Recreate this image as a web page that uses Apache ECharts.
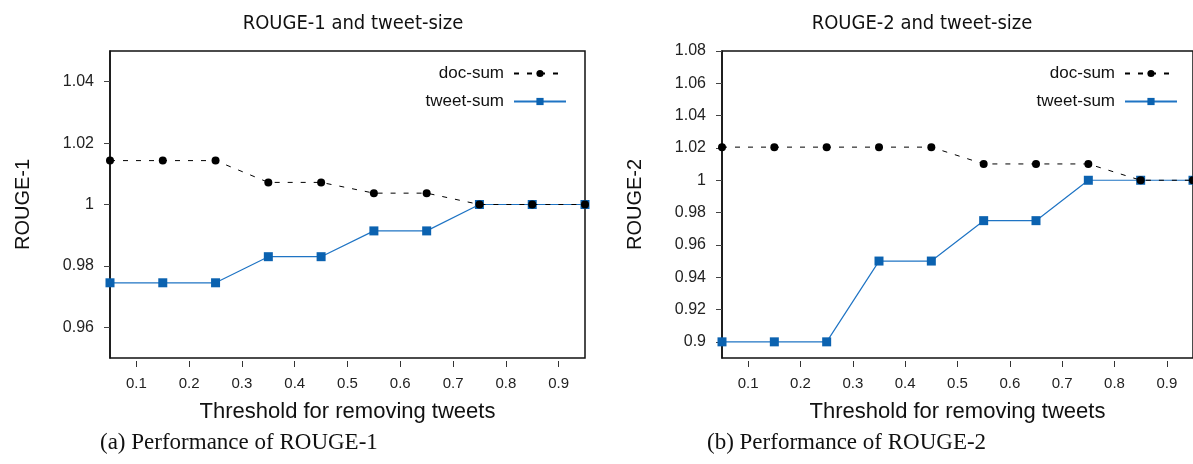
<!DOCTYPE html>
<html><head><meta charset="utf-8">
<script src="https://cdn.jsdelivr.net/npm/echarts@6/dist/echarts.min.js"></script>
<style>html,body{margin:0;padding:0;background:#fff}#c{width:1193px;height:464px}</style>
</head><body><div id="c"></div>
<script>
// ---- data ----
const thresholds = [0.05, 0.15, 0.25, 0.35, 0.45, 0.55, 0.65, 0.75, 0.85, 0.95];
const xTicks = [0.1, 0.2, 0.3, 0.4, 0.5, 0.6, 0.7, 0.8, 0.9];
const r1DocSum   = [1.0143, 1.0143, 1.0143, 1.0072, 1.0072, 1.0037, 1.0037, 1.0, 1.0, 1.0];
const r1TweetSum = [0.9745, 0.9745, 0.9745, 0.983, 0.983, 0.9914, 0.9914, 1.0, 1.0, 1.0];
const r2DocSum   = [1.0205, 1.0205, 1.0205, 1.0205, 1.0205, 1.0101, 1.0101, 1.0101, 1.0, 1.0];
const r2TweetSum = [0.9, 0.9, 0.9, 0.95, 0.95, 0.975, 0.975, 1.0, 1.0, 1.0];
const r1Ticks = [0.96, 0.98, 1.0, 1.02, 1.04];
const r2Ticks = [0.9, 0.92, 0.94, 0.96, 0.98, 1.0, 1.02, 1.04, 1.06, 1.08];
const seriesNames = ['doc-sum', 'tweet-sum'];
const chartTitles = ['ROUGE-1 and tweet-size', 'ROUGE-2 and tweet-size'];
const yNames = ['ROUGE-1', 'ROUGE-2'];
const xName = 'Threshold for removing tweets';
const captions = ['(a) Performance of ROUGE-1', '(b) Performance of ROUGE-2'];

// ---- styles ----
const SANS = '"Liberation Sans", Arial, sans-serif';
const NARROW = '"Liberation Sans Narrow", "DejaVu Sans Condensed", "Liberation Sans", sans-serif';
const BLUE = '#0b62b0';
const fmt = v => String(+(+v).toFixed(2));
const pairs = (ys) => thresholds.map((t, i) => [t, ys[i]]);

const grids = [
  { left: 110, width: 475, top: 51, height: 307 },
  { left: 722, width: 475, top: 51, height: 307 }
];

function xAxis(i) {
  return {
    type: 'value', gridIndex: i, min: 0.05, max: 0.95,
    offset: 3,
    axisLine: { show: false },
    axisTick: { show: true, length: 6, customValues: xTicks, lineStyle: { color: '#333', width: 1 } },
    axisLabel: { customValues: xTicks, formatter: fmt, color: '#222', fontFamily: SANS, fontSize: 15, margin: 15 },
    splitLine: { show: false },
    name: xName, nameLocation: 'middle', nameGap: 40,
    nameTextStyle: { color: '#111', fontFamily: SANS, fontSize: 22 }
  };
}
function yAxis(i, min, max, ticks) {
  return {
    type: 'value', gridIndex: i, min: min, max: max,
    axisLine: { show: true, lineStyle: { color: '#111', width: 1.5 } },
    axisTick: { show: true, length: 6, customValues: ticks, lineStyle: { color: '#444' } },
    axisLabel: { customValues: ticks, formatter: fmt, color: '#222', fontFamily: SANS, fontSize: 16, margin: 16 },
    splitLine: { show: false },
    name: yNames[i], nameLocation: 'middle', nameGap: 77, nameRotate: 90,
    nameTextStyle: { color: '#111', fontFamily: SANS, fontSize: 20 }
  };
}
function docSeries(i, ys) {
  return {
    name: seriesNames[0], type: 'line', xAxisIndex: i, yAxisIndex: i,
    data: pairs(ys), symbol: 'circle', symbolSize: 8,
    itemStyle: { color: '#000' },
    lineStyle: { color: '#000', width: 1, type: [5, 8] },
    z: 3, animation: false
  };
}
function tweetSeries(i, ys) {
  return {
    name: seriesNames[1], type: 'line', xAxisIndex: i, yAxisIndex: i,
    data: pairs(ys), symbol: 'rect', symbolSize: 9,
    itemStyle: { color: BLUE },
    lineStyle: { color: '#1f74c4', width: 1.2 },
    z: 2, animation: false
  };
}
function legend(rightPx) {
  return {
    data: seriesNames, orient: 'vertical', align: 'right',
    right: rightPx, top: 60, itemWidth: 52, itemHeight: 9, itemGap: 11,
    textStyle: { color: '#111', fontFamily: SANS, fontSize: 17, padding: [0, 5, 0, 0] },
    selectedMode: false
  };
}

const chart = echarts.init(document.getElementById('c'), null, { renderer: 'canvas' });
chart.setOption({
  backgroundColor: '#fff',
  animation: false,
  title: [
    { text: chartTitles[0], left: 348, top: 9, textAlign: 'center',
      textStyle: { fontFamily: NARROW, fontSize: 20, fontWeight: 'normal', color: '#111' } },
    { text: chartTitles[1], left: 917, top: 9, textAlign: 'center',
      textStyle: { fontFamily: NARROW, fontSize: 20, fontWeight: 'normal', color: '#111' } }
  ],
  legend: [legend(621), legend(10)],
  grid: grids.map(g => Object.assign({ show: true, borderColor: '#111', borderWidth: 1.5, backgroundColor: 'transparent' }, g)),
  xAxis: [xAxis(0), xAxis(1)],
  yAxis: [yAxis(0, 0.95, 1.05, r1Ticks), yAxis(1, 0.89, 1.08, r2Ticks)],
  series: [
    docSeries(0, r1DocSum), tweetSeries(0, r1TweetSum),
    docSeries(1, r2DocSum), tweetSeries(1, r2TweetSum)
  ],
  graphic: [
    { type: 'text', left: 100, top: 431, style: { text: captions[0], font: '23px "Liberation Serif", "DejaVu Serif", serif', fill: '#111' } },
    { type: 'text', left: 707, top: 431, style: { text: captions[1], font: '23px "Liberation Serif", "DejaVu Serif", serif', fill: '#111' } }
  ]
});
</script>
</body></html>
